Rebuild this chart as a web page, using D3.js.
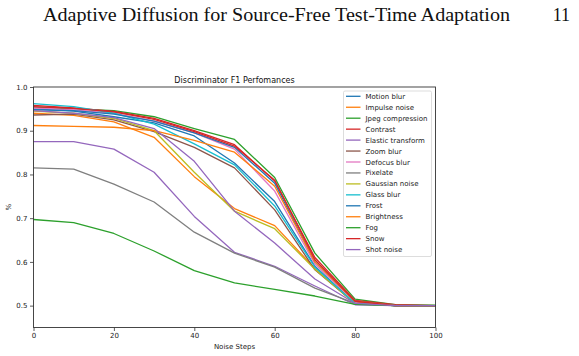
<!DOCTYPE html>
<html>
<head>
<meta charset="utf-8">
<script src="https://cdn.jsdelivr.net/npm/d3@7"></script>
<style>
  body { margin: 0; background: #fff; }
  svg { display: block; }
</style>
</head>
<body>
<div class="chart"></div>
<script>
// noise steps on the x axis
const steps = [0, 10, 20, 30, 40, 50, 60, 70, 80, 90, 100];

// F1 per corruption
const motionBlur     = [0.950, 0.945, 0.932, 0.918, 0.888, 0.826, 0.738, 0.590, 0.505, 0.500, 0.500];
const impulseNoise   = [0.940, 0.935, 0.920, 0.885, 0.795, 0.722, 0.683, 0.585, 0.505, 0.500, 0.500];
const jpegCompr      = [0.954, 0.950, 0.946, 0.932, 0.905, 0.880, 0.793, 0.620, 0.515, 0.502, 0.501];
const contrast       = [0.958, 0.952, 0.944, 0.928, 0.900, 0.868, 0.785, 0.610, 0.512, 0.502, 0.500];
const elastic        = [0.875, 0.875, 0.858, 0.805, 0.704, 0.622, 0.590, 0.545, 0.502, 0.500, 0.500];
const zoomBlur       = [0.936, 0.938, 0.925, 0.898, 0.862, 0.815, 0.719, 0.582, 0.505, 0.500, 0.500];
const defocusBlur    = [0.952, 0.948, 0.940, 0.922, 0.895, 0.858, 0.762, 0.595, 0.508, 0.500, 0.500];
const pixelate       = [0.815, 0.812, 0.778, 0.737, 0.668, 0.620, 0.588, 0.540, 0.505, 0.500, 0.500];
const gaussianNoise  = [0.945, 0.940, 0.928, 0.900, 0.805, 0.716, 0.676, 0.583, 0.505, 0.500, 0.500];
const glassBlur      = [0.962, 0.955, 0.940, 0.915, 0.870, 0.822, 0.728, 0.588, 0.505, 0.500, 0.500];
const frost          = [0.948, 0.946, 0.938, 0.922, 0.895, 0.862, 0.780, 0.600, 0.510, 0.500, 0.500];
const brightness     = [0.912, 0.910, 0.908, 0.900, 0.878, 0.851, 0.773, 0.600, 0.510, 0.500, 0.500];
const fog            = [0.697, 0.690, 0.665, 0.625, 0.580, 0.552, 0.537, 0.522, 0.503, 0.500, 0.500];
const snow           = [0.955, 0.951, 0.943, 0.926, 0.898, 0.865, 0.787, 0.605, 0.510, 0.500, 0.500];
const shotNoise      = [0.946, 0.940, 0.930, 0.905, 0.830, 0.716, 0.643, 0.561, 0.505, 0.500, 0.500];

const names = ['Motion blur', 'Impulse noise', 'Jpeg compression', 'Contrast', 'Elastic transform',
  'Zoom blur', 'Defocus blur', 'Pixelate', 'Gaussian noise', 'Glass blur', 'Frost',
  'Brightness', 'Fog', 'Snow', 'Shot noise'];
const values = [motionBlur, impulseNoise, jpegCompr, contrast, elastic, zoomBlur, defocusBlur,
  pixelate, gaussianNoise, glassBlur, frost, brightness, fog, snow, shotNoise];

const xTicks = [0, 20, 40, 60, 80, 100];
const yTicks = [0.5, 0.6, 0.7, 0.8, 0.9, 1.0];

// matplotlib tab10, cycled
const colors = ['#1f77b4', '#ff7f0e', '#2ca02c', '#d62728', '#9467bd',
  '#8c564b', '#e377c2', '#7f7f7f', '#bcbd22', '#17becf'];

const W = 579, H = 356;
const margin = { top: 87, right: 143.5, bottom: 28.5, left: 33.5 };
const width = W - margin.left - margin.right;
const height = H - margin.top - margin.bottom;

const root = d3.select('.chart')
  .append('svg')
  .attr('width', W)
  .attr('height', H);

// page header of the paper
const serif = '"Liberation Serif", "DejaVu Serif", serif';
root.append('text')
  .attr('x', 43).attr('y', 21)
  .attr('textLength', 467)
  .attr('lengthAdjust', 'spacingAndGlyphs')
  .style('font-family', serif)
  .style('font-size', '18px')
  .attr('fill', '#111')
  .text('Adaptive Diffusion for Source-Free Test-Time Adaptation');
root.append('text')
  .attr('x', 570).attr('y', 21)
  .attr('text-anchor', 'end')
  .style('font-family', serif)
  .style('font-size', '18px')
  .attr('fill', '#111')
  .text('11');

const svg = root.append('g')
  .attr('transform', `translate(${margin.left},${margin.top})`);

const xScale = d3.scaleLinear().domain([0, 100]).range([0, width]);
const yScale = d3.scaleLinear().domain([0.45, 1.0]).range([height, 0]);

const font = '"DejaVu Sans", sans-serif';

// lines
const line = d3.line()
  .x((d, i) => xScale(steps[i]))
  .y(d => yScale(d));

svg.selectAll('path.series')
  .data(values)
  .enter()
  .append('path')
  .attr('class', 'series')
  .attr('d', d => line(d))
  .attr('fill', 'none')
  .attr('stroke', (d, i) => colors[i % 10])
  .attr('stroke-width', 1.3)
  .attr('stroke-linejoin', 'round');

// axes
const xAxis = d3.axisBottom(xScale).tickValues(xTicks).tickFormat(d3.format('d')).tickSize(3.5).tickPadding(2.5);
const yAxis = d3.axisLeft(yScale).tickValues(yTicks).tickFormat(d3.format('.1f')).tickSize(3.5).tickPadding(2.5);

svg.append('g')
  .attr('transform', `translate(0,${height})`)
  .call(xAxis);
svg.append('g').call(yAxis);

svg.selectAll('.tick text')
  .style('font-family', font)
  .style('font-size', '7px')
  .attr('fill', '#222');
svg.selectAll('.tick line').attr('stroke', '#333').attr('stroke-width', 0.8);
svg.selectAll('.domain').remove();

// frame
svg.append('rect')
  .attr('x', 0).attr('y', 0)
  .attr('width', width).attr('height', height)
  .attr('fill', 'none')
  .attr('stroke', '#333')
  .attr('stroke-width', 0.9);

// titles
svg.append('text')
  .attr('x', width / 2).attr('y', -4)
  .attr('text-anchor', 'middle')
  .style('font-family', font)
  .style('font-size', '8px')
  .attr('fill', '#111')
  .text('Discriminator F1 Perfomances');

svg.append('text')
  .attr('x', width / 2).attr('y', height + 21.5)
  .attr('text-anchor', 'middle')
  .style('font-family', font)
  .style('font-size', '7px')
  .attr('fill', '#222')
  .text('Noise Steps');

svg.append('text')
  .attr('transform', `translate(${-23},${height / 2}) rotate(-90)`)
  .attr('text-anchor', 'middle')
  .style('font-family', font)
  .style('font-size', '7px')
  .attr('fill', '#222')
  .text('%');

// legend
const legend = root.append('g').attr('transform', 'translate(343.5,91)');
legend.append('rect')
  .attr('width', 88).attr('height', 165.5)
  .attr('rx', 1.5)
  .attr('fill', '#fff')
  .attr('fill-opacity', 0.8)
  .attr('stroke', '#d4d4d4')
  .attr('stroke-width', 0.8);

const item = legend.selectAll('g.item')
  .data(names)
  .enter()
  .append('g')
  .attr('class', 'item')
  .attr('transform', (d, i) => `translate(0,${5.3 + i * 10.95})`);

item.append('line')
  .attr('x1', 2.5).attr('x2', 17)
  .attr('stroke', (d, i) => colors[i % 10])
  .attr('stroke-width', 1.3);

item.append('text')
  .attr('x', 22).attr('y', 2.5)
  .style('font-family', font)
  .style('font-size', '7px')
  .attr('fill', '#222')
  .text(d => d);
</script>
</body>
</html>
